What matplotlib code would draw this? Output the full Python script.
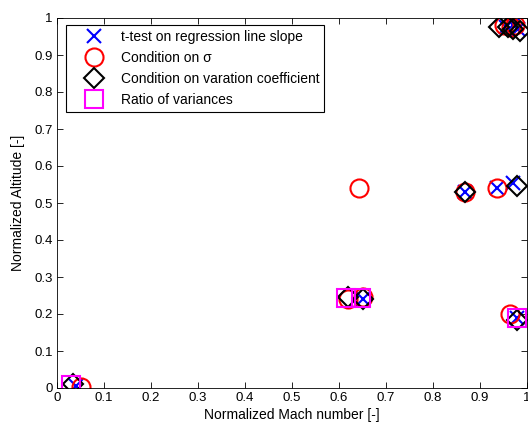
import matplotlib
matplotlib.use('Agg')
import matplotlib.pyplot as plt
import matplotlib.ticker as mtick

plt.rcParams['font.family'] = ['Liberation Sans', 'DejaVu Sans']

# ── Data ─────────────────────────────────────────────────────
ttest_x = [0.040, 0.650, 0.868, 0.937, 0.970, 0.978, 0.955, 0.970, 0.980]
ttest_y = [0.005, 0.240, 0.530, 0.540, 0.555, 0.190, 0.975, 0.980, 0.970]

sigma_x = [0.050, 0.620, 0.650, 0.643, 0.868, 0.937, 0.964, 0.950, 0.965, 0.975]
sigma_y = [0.003, 0.240, 0.245, 0.540, 0.530, 0.540, 0.200, 0.980, 0.975, 0.980]

varcoef_x = [0.035, 0.620, 0.650, 0.868, 0.978, 0.978, 0.940, 0.960, 0.970, 0.985]
varcoef_y = [0.010, 0.245, 0.240, 0.530, 0.545, 0.185, 0.975, 0.975, 0.970, 0.965]

ratio_x = [0.030, 0.615, 0.647, 0.978]
ratio_y = [0.008, 0.243, 0.243, 0.190]

labels = ['t-test on regression line slope', 'Condition on σ',
          'Condition on varation coefficient', 'Ratio of variances']

# ── Plot ─────────────────────────────────────────────────────
fig = plt.figure(figsize=(5.28, 4.26), dpi=100)
ax = fig.add_axes([57/528, 38/426, 470/528, 370/426])

ax.plot(ttest_x, ttest_y, 'x', color='#0000ff', ms=10, mew=1.5, ls='none', label=labels[0])
ax.plot(sigma_x, sigma_y, 'o', color='#ff0000', mfc='none', ms=13, mew=1.5, ls='none', label=labels[1])
ax.plot(varcoef_x, varcoef_y, 'D', color='black', mfc='none', ms=10.5, mew=1.5, ls='none', label=labels[2])
ax.plot(ratio_x, ratio_y, 's', color='#ff00ff', mfc='none', ms=12.5, mew=1.5, ls='none', label=labels[3])

ax.set_xlim(0, 1)
ax.set_ylim(0, 1)
ax.set_xticks([i / 10 for i in range(11)])
ax.set_yticks([i / 10 for i in range(11)])
fmt = mtick.FuncFormatter(lambda v, _: f'{v:g}')
ax.xaxis.set_major_formatter(fmt)
ax.yaxis.set_major_formatter(fmt)
ax.tick_params(direction='in', top=True, right=True, labelsize=9.5, length=4, width=0.6, pad=3)
for s in ax.spines.values():
    s.set_linewidth(0.6)

ax.set_xlabel('Normalized Mach number [-]', fontsize=10, labelpad=3)
ax.set_ylabel('Normalized Altitude [-]', fontsize=10, labelpad=7)

leg = ax.legend(loc='upper left', bbox_to_anchor=(66/528, 1 - 25/426),
                bbox_transform=fig.transFigure, fontsize=10, frameon=True,
                fancybox=False, edgecolor='black', framealpha=1,
                borderaxespad=0, handlelength=3.4, handletextpad=0.2,
                labelspacing=0.5, borderpad=0.35)
leg.get_frame().set_linewidth(0.8)

plt.savefig('out.png', dpi=100)
plt.close()
